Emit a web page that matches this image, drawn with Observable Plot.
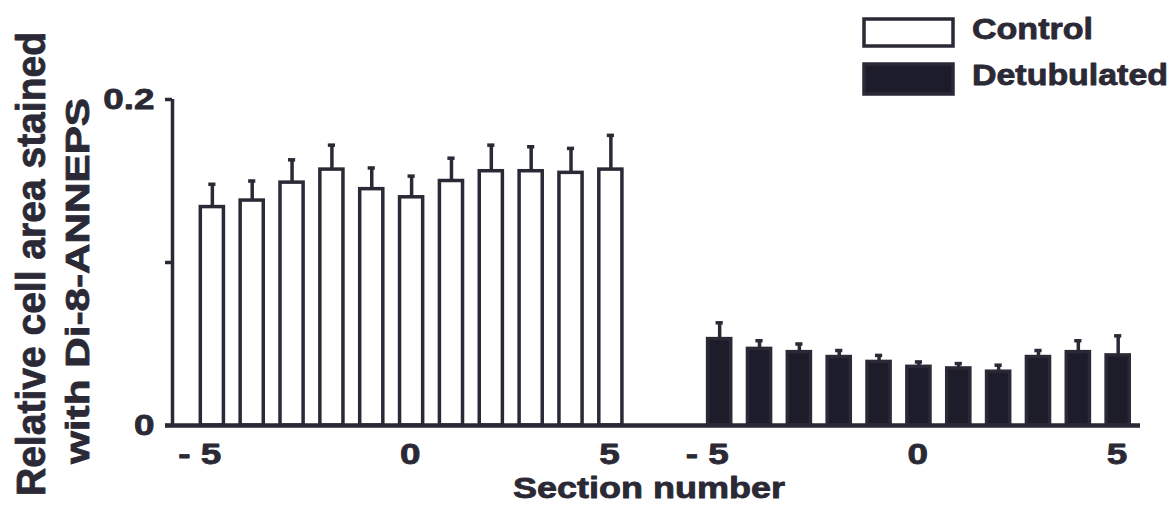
<!DOCTYPE html>
<html>
<head>
<meta charset="utf-8">
<script src="https://cdn.jsdelivr.net/npm/d3@7"></script>
<script src="https://cdn.jsdelivr.net/npm/@observablehq/plot@0.6"></script>
<style>
  body { margin: 0; background: #ffffff; }
  #wrap { position: relative; width: 1171px; height: 521px; overflow: hidden;
          font-family: "Liberation Sans", Arial, sans-serif; font-weight: bold; }
  #wrap > svg { position: absolute; left: 0; top: 0; }
  #wrap text { paint-order: stroke; stroke-linejoin: round; }
</style>
</head>
<body>
<div id="wrap"></div>
<script>
// ---------------- data ----------------
const sections = [-5, -4, -3, -2, -1, 0, 1, 2, 3, 4, 5];
const groups = ["Control", "Detubulated"];
const controlMean = [0.134, 0.138, 0.149, 0.157, 0.145, 0.140, 0.150, 0.156, 0.156, 0.155, 0.157];
const controlSem  = [0.014, 0.012, 0.014, 0.015, 0.013, 0.013, 0.014, 0.016, 0.015, 0.015, 0.021];
const detubMean   = [0.053, 0.047, 0.045, 0.042, 0.039, 0.036, 0.035, 0.033, 0.042, 0.045, 0.043];
const detubSem    = [0.010, 0.005, 0.005, 0.004, 0.004, 0.003, 0.003, 0.004, 0.004, 0.007, 0.012];
const tickSections = [-5, 0, 5];
const yTicks = [0, 0.1, 0.2];
const yTickLabels = ["0", "", "0.2"];
const yTitleLines = ["Relative cell area stained", "with Di-8-ANNEPS"];
const xTitle = "Section number";

// ---------------- layout / style ----------------
const INK = "#2a2935";
const BAR_DARK = "#1d1c2b";
const LINE_W = 3.5;
const GROUP_OFFSET = 12.73;   // spacing between the two groups, in section steps
const BAR_HALF = 0.29;
const CAP_HALF = 0.09;
const xDomain = [-6.0, 18.29];

const rows = [];
groups.forEach((g, gi) => {
  const means = gi === 0 ? controlMean : detubMean;
  const sems = gi === 0 ? controlSem : detubSem;
  sections.forEach((s, i) => rows.push({
    group: g, section: s, mean: means[i], sem: sems[i], pos: s + gi * GROUP_OFFSET
  }));
});
const xTickPositions = groups.flatMap((g, gi) => tickSections.map(s => s + gi * GROUP_OFFSET));
const fmtSection = d => {
  const s = Math.round(d > 5.5 ? d - GROUP_OFFSET : d);
  return s < 0 ? "- " + Math.abs(s) : String(s);
};

const plot = Plot.plot({
  width: 1171, height: 521,
  marginTop: 99, marginBottom: 96, marginLeft: 172, marginRight: 31,
  style: { fontFamily: '"Liberation Sans", Arial, sans-serif', fontWeight: "bold",
           color: INK, background: "transparent", overflow: "visible" },
  x: { type: "linear", domain: xDomain, axis: null },
  y: { domain: [0, 0.2], axis: null },
  color: { domain: groups, range: ["#ffffff", BAR_DARK] },
  marks: [
    Plot.ruleX([xDomain[0]], { y1: 0, y2: 0.2, stroke: INK, strokeWidth: LINE_W }),
    Plot.axisY({ ticks: yTicks, tickFormat: d => yTickLabels[yTicks.indexOf(d)],
                 tickSize: 7, tickPadding: 11, fontSize: 29, strokeWidth: LINE_W, label: null }),
    Plot.rect(rows, { x1: d => d.pos - BAR_HALF, x2: d => d.pos + BAR_HALF, y1: 0, y2: "mean",
                      fill: "group", stroke: INK, strokeWidth: LINE_W }),
    Plot.ruleX(rows, { x: "pos", y1: "mean", y2: d => d.mean + d.sem, stroke: INK, strokeWidth: LINE_W }),
    Plot.ruleY(rows, { y: d => d.mean + d.sem, x1: d => d.pos - CAP_HALF, x2: d => d.pos + CAP_HALF,
                       stroke: INK, strokeWidth: LINE_W }),
    Plot.ruleY([0], { stroke: INK, strokeWidth: 4.5, insetLeft: -7 }),
    Plot.axisX({ ticks: xTickPositions, tickFormat: fmtSection, tickSize: 0, tickPadding: 18,
                 fontSize: 29, textAnchor: "end", dx: 9, label: null })
  ]
});

const wrap = document.getElementById("wrap");
wrap.appendChild(plot);

function stretch(el, factor) {
  const len = el.getComputedTextLength();
  if (len > 0) {
    el.setAttribute("textLength", (len * factor).toFixed(1));
    el.setAttribute("lengthAdjust", "spacingAndGlyphs");
  }
}
plot.querySelectorAll("text").forEach(t => {
  stretch(t, 1.27);
  t.setAttribute("stroke", INK);
  t.setAttribute("stroke-width", 0.8);
});

// ---------------- overlay: axis titles and legend ----------------
const ov = d3.select(wrap).append("svg")
  .attr("width", 1171).attr("height", 521)
  .style("font-family", '"Liberation Sans", Arial, sans-serif')
  .style("font-weight", "bold")
  .attr("fill", INK)
  .attr("stroke", INK)
  .attr("stroke-width", 0.8);

function addText(sel, txt, opts) {
  const t = sel.append("text").text(txt)
    .attr("font-size", opts.size)
    .attr("text-anchor", opts.anchor || "start");
  if (opts.transform) t.attr("transform", opts.transform);
  else t.attr("x", opts.x).attr("y", opts.y);
  if (opts.length) t.attr("textLength", opts.length).attr("lengthAdjust", "spacingAndGlyphs");
  return t;
}

addText(ov, yTitleLines[0], { size: 40, anchor: "middle", transform: "translate(45,264) rotate(-90)", length: 464 });
addText(ov, yTitleLines[1], { size: 33, anchor: "middle", transform: "translate(89,281) rotate(-90)", length: 366 });
addText(ov, xTitle, { size: 29, anchor: "middle", x: 649, y: 498, length: 272 });

// legend
const legendY = [19, 64];
groups.forEach((g, gi) => {
  ov.append("rect")
    .attr("x", 864).attr("y", legendY[gi]).attr("width", 89).attr("height", gi === 0 ? 27 : 30)
    .attr("fill", gi === 0 ? "#ffffff" : BAR_DARK)
    .attr("stroke", INK).attr("stroke-width", LINE_W);
  addText(ov, g, { size: 29, x: 972, y: gi === 0 ? 39 : 85, length: gi === 0 ? 121 : 196 });
});
</script>
</body>
</html>
